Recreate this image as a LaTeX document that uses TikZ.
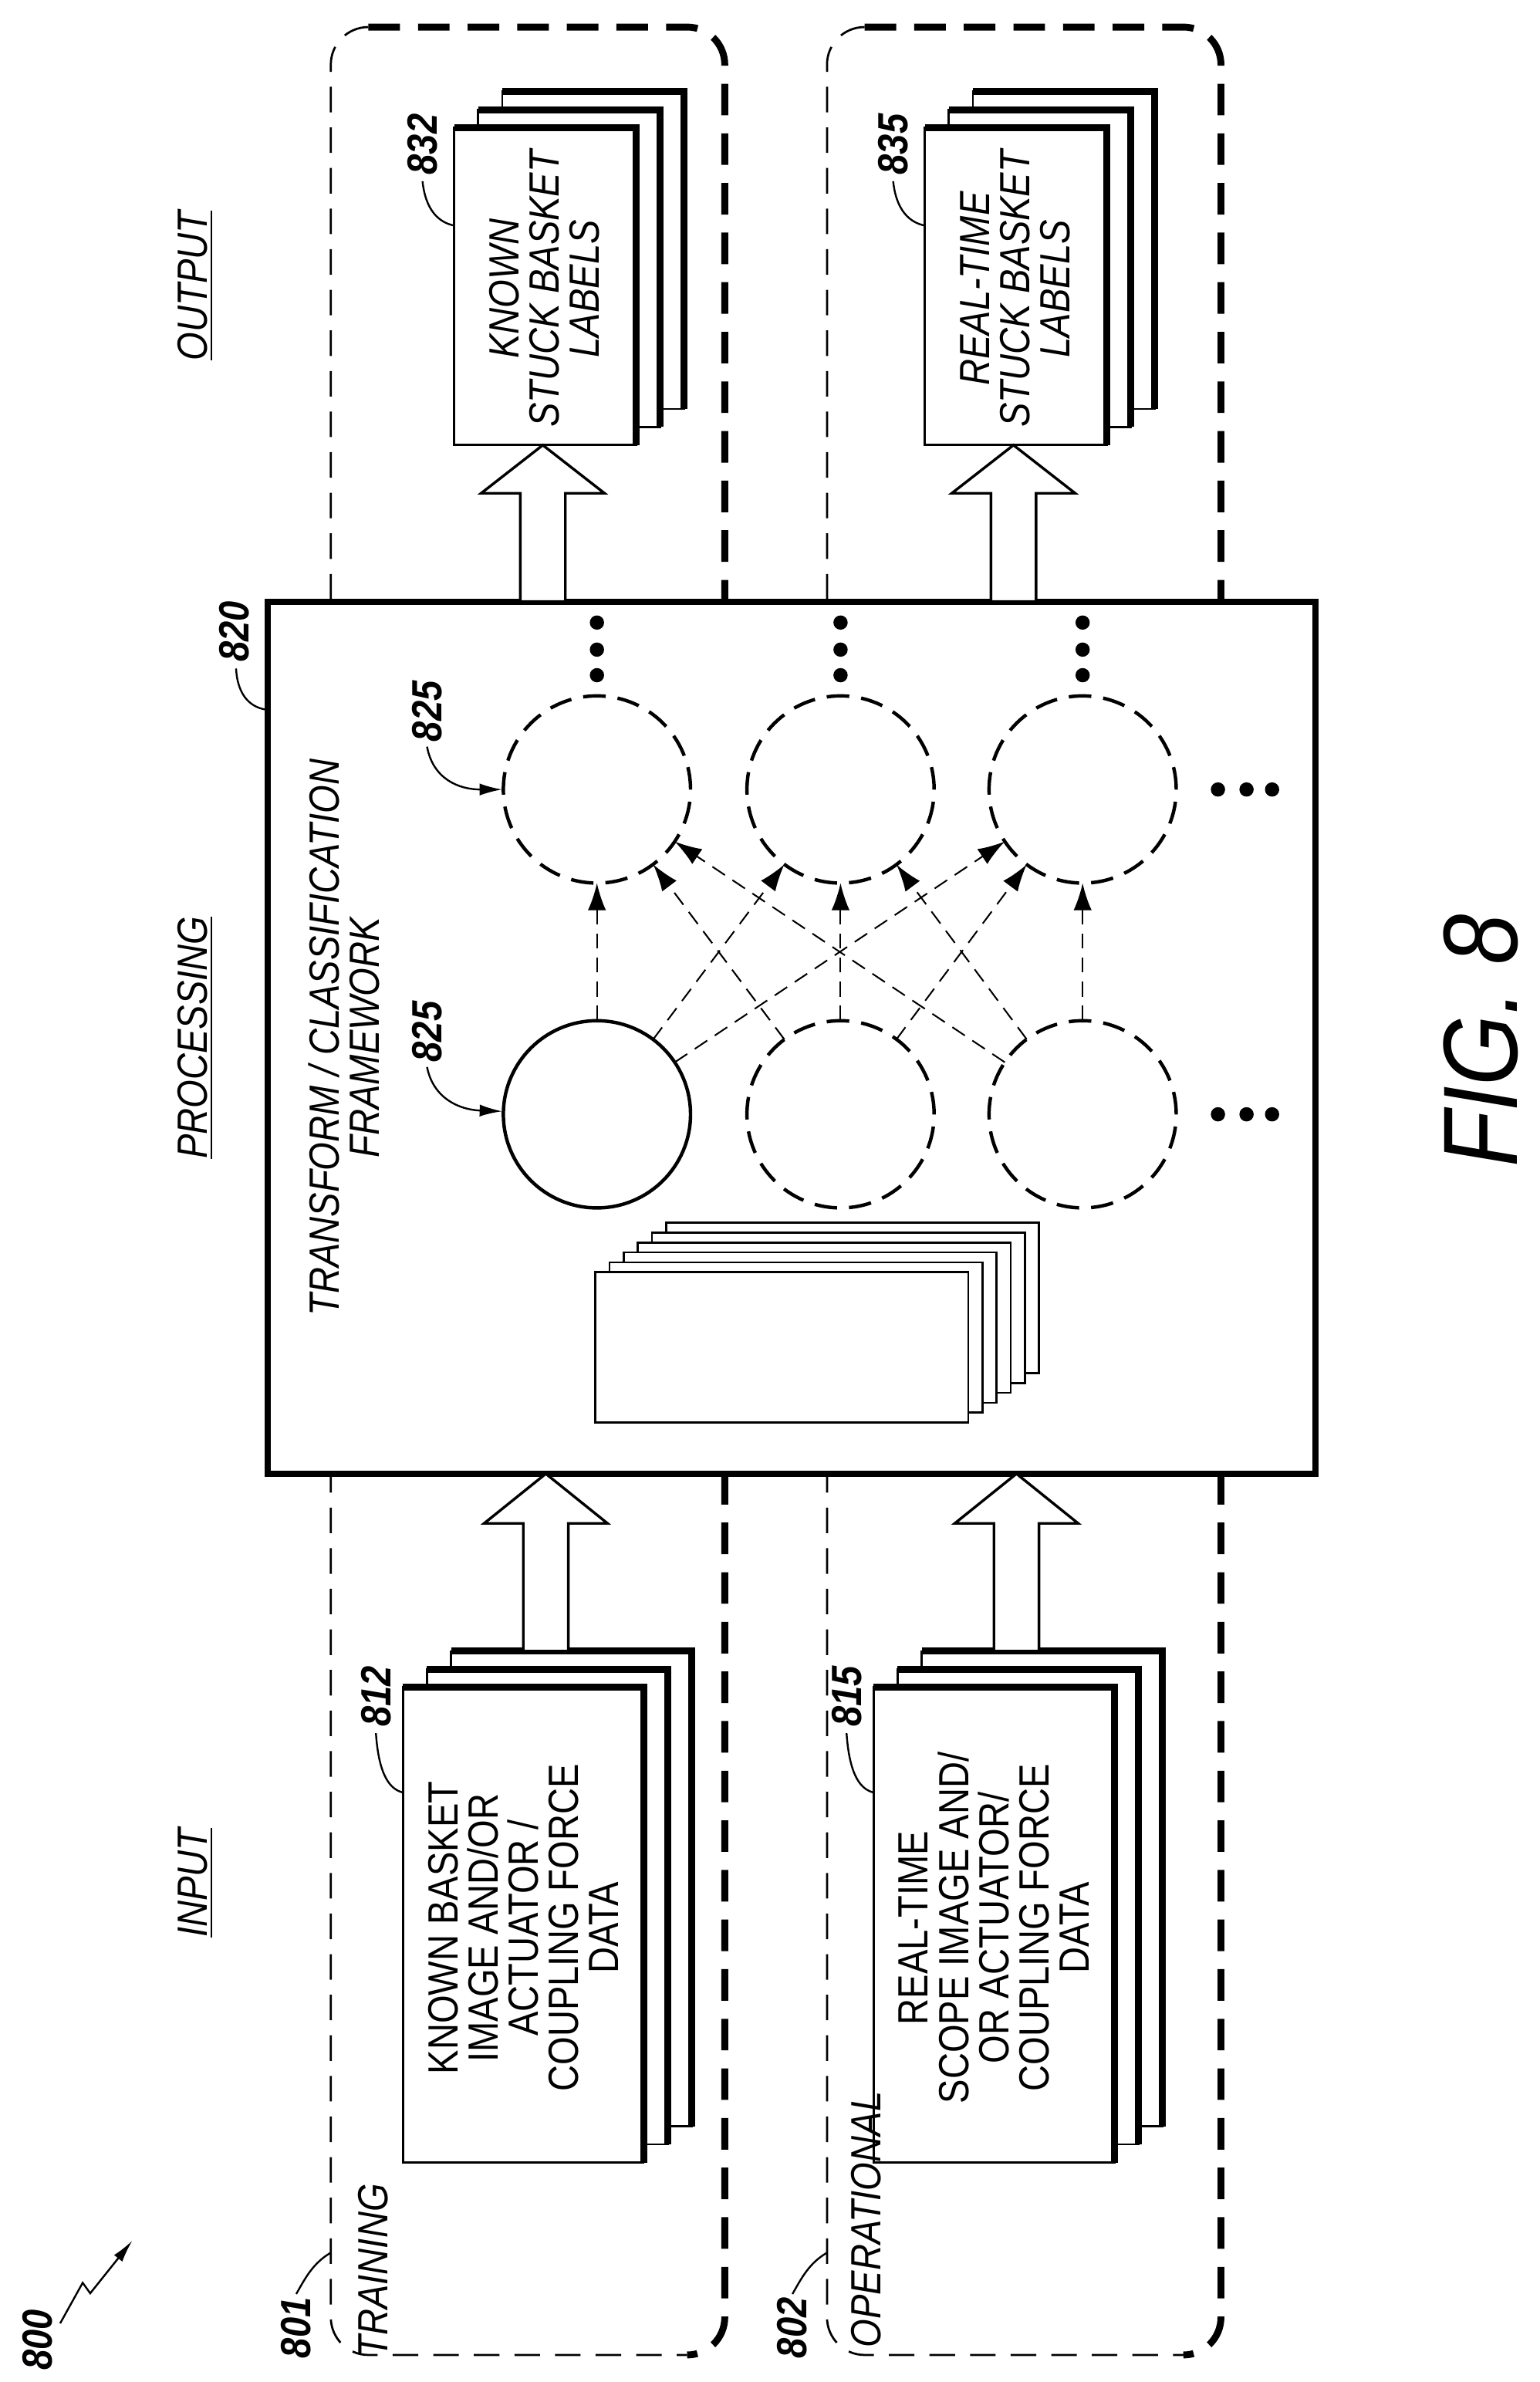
\documentclass[tikz,border=0pt]{standalone}
\usepackage{fontspec}
\setmainfont{Liberation Sans}[FakeStretch=0.86]
\usetikzlibrary{arrows.meta}
\begin{document}
\begin{tikzpicture}[x=0.02cm,y=-0.02cm,
  txt/.style={font=\fontsize{16}{15.2}\selectfont, align=center, rotate=90, inner sep=0pt},
  itxt/.style={txt, font=\fontsize{16}{15.2}\selectfont\itshape},
  num/.style={font=\fontsize{16}{16}\selectfont\bfseries\itshape, rotate=90, inner sep=0pt},
  head/.style={font=\fontsize{16}{16}\selectfont\itshape, rotate=90, inner sep=0pt},
  thindash/.style={line width=0.8pt, dash pattern=on 0.34cm off 0.2cm, rounded corners=0.5cm},
  thickdash/.style={line width=2.6pt, dash pattern=on 0.42cm off 0.24cm, rounded corners=0.5cm},
  neuron/.style={circle, draw, line width=1.3pt, minimum size=2.49cm, inner sep=0pt, outer sep=0pt},
  dneuron/.style={neuron, dash pattern=on 0.3cm off 0.16cm},
  conn/.style={line width=0.6pt, dash pattern=on 0.2cm off 0.12cm, -{Latex[length=0.36cm,width=0.24cm]}},
  leader/.style={line width=0.7pt},
  block/.style={line width=1pt, fill=white},
  page/.style={line width=0.8pt, fill=white},
  pagetop/.style={line width=2.6pt},
  dot/.style={circle, fill, inner sep=0pt, minimum size=0.19cm}
]
\useasboundingbox (0,0) rectangle (1024,1584);

% region boxes
\foreach \l/\r in {220/482, 550/812}{
  \draw[thindash] ({\l+25},18) -- (\l,18) -- (\l,1566) -- ({\r-25},1566);
  \draw[thickdash] ({\l+25},18) -- (\r,18) -- (\r,1566) -- ({\r-25},1566);
}

% processing box
\node[draw, line width=2.4pt, fill=white, minimum width=13.94cm, minimum height=11.6cm, inner sep=0pt, outer sep=0pt] (proc) at (526.5,690) {};

% inner stack
\foreach \k in {5,4,...,0}{
  \draw[page] ({396+\k*9.4},{846-\k*6.6}) rectangle ({644+\k*9.4},{946-\k*6.6});
}

% neurons
\node[neuron] (b1) at (397,741) {};
\node[dneuron] (b2) at (559,741) {};
\node[dneuron] (b3) at (720,741) {};
\node[dneuron] (t1) at (397,525) {};
\node[dneuron] (t2) at (559,525) {};
\node[dneuron] (t3) at (720,525) {};
\foreach \i in {1,2,3}{\foreach \j in {1,2,3}{\draw[conn] (b\i) -- (t\j);}}
\foreach \x in {397,559,720}{\foreach \y in {414,432,449}{\node[dot] at (\x,\y) {};}}
\foreach \y in {525,741}{\foreach \x in {810,829,846}{\node[dot] at (\x,\y) {};}}

% page stacks and block arrows
\foreach \s in {0,313}{
  \foreach \k in {2,1,0}{
    \draw[page] ({302+\s+\k*16},{85-\k*12}) rectangle ({423+\s+\k*16},{296-\k*12});
    \draw[pagetop] ({302+\s+\k*16},{85-\k*12}) -- ({423+\s+\k*16},{85-\k*12}) -- ({423+\s+\k*16},{296-\k*12});
  }
  \foreach \k in {2,1,0}{
    \draw[page] ({268+\s+\k*16},{1122-\k*12}) rectangle ({428+\s+\k*16},{1438-\k*12});
    \draw[pagetop] ({268+\s+\k*16},{1122-\k*12}) -- ({428+\s+\k*16},{1122-\k*12}) -- ({428+\s+\k*16},{1438-\k*12});
  }
  \draw[block] ({361+\s},296) -- ({402+\s},328) -- ({376+\s},328) -- ({376+\s},400) -- ({346+\s},400) -- ({346+\s},328) -- ({320+\s},328) -- cycle;
  \draw[block] ({363+\s},980) -- ({404+\s},1013) -- ({378+\s},1013) -- ({378+\s},1098) -- ({348+\s},1098) -- ({348+\s},1013) -- ({322+\s},1013) -- cycle;
}

% texts in stacks
\node[txt] (t812) at (348,1282) {KNOWN BASKET\\IMAGE AND/OR\\ACTUATOR /\\COUPLING FORCE\\DATA};
\node[txt] (t815) at (661,1282) {REAL-TIME\\SCOPE IMAGE AND/\\OR ACTUATOR/\\COUPLING FORCE\\DATA};
\node[itxt] (t832) at (362,192) {KNOWN\\STUCK BASKET\\LABELS};
\node[itxt] (t835) at (675,192) {REAL-TIME\\STUCK BASKET\\LABELS};

% framework text
\node[itxt] (tfw) at (229,690) {TRANSFORM / CLASSIFICATION\\FRAMEWORK};

% headings
\node[head] (hin) at (130,1252) {\underline{INPUT}};
\node[head] (hproc) at (130,690) {\underline{PROCESSING}};
\node[head] (hout) at (130,190) {\underline{OUTPUT}};
\node[itxt] (htr) at (248,1510) {TRAINING};
\node[itxt] (hop) at (576,1476) {OPERATIONAL};

% reference numerals
\node[num] (n812) at (250,1128) {812};
\draw[leader] (n812.west) ++(0,4) .. controls (252,1182) and (260,1190) .. (268,1192);
\node[num] (n815) at (563,1128) {815};
\draw[leader] (n815.west) ++(0,4) .. controls (565,1182) and (573,1190) .. (581,1192);
\node[num] (n832) at (281,96) {832};
\draw[leader] (n832.west) ++(0,4) .. controls (283,140) and (292,148) .. (302,150);
\node[num] (n835) at (594,96) {835};
\draw[leader] (n835.west) ++(0,4) .. controls (596,140) and (605,148) .. (615,150);
\node[num] (n820) at (156,420) {820};
\draw[leader] (n820.west) ++(1,4) .. controls (158,464) and (168,471) .. (178,472);
\node[num] (n825a) at (284,473) {825};
\draw[leader,-{Latex[length=0.3cm,width=0.16cm]}] (n825a.west) ++(0,3) .. controls (288,518) and (305,525) .. (334,525);
\node[num] (n825b) at (284,686) {825};
\draw[leader,-{Latex[length=0.3cm,width=0.16cm]}] (n825b.west) ++(0,3) .. controls (288,730) and (305,738) .. (334,739);
\node[num] (n801) at (197,1548) {801};
\draw[leader] (n801.east) ++(0,-2) .. controls (203,1515) and (208,1505) .. (220,1498);
\node[num] (n802) at (527,1548) {802};
\draw[leader] (n802.east) ++(0,-2) .. controls (533,1515) and (538,1505) .. (550,1498);
\node[num] (n800) at (25,1556) {800};
\draw[leader,-{Latex[length=0.3cm,width=0.14cm]}] (40,1545) -- (55,1518) -- (60,1525) -- (88,1490);

% figure label
\node[rotate=90, font=\fontsize{40}{40}\selectfont\itshape, inner sep=0pt] (fig) at (985,692) {FIG. 8};
\end{tikzpicture}
\end{document}
